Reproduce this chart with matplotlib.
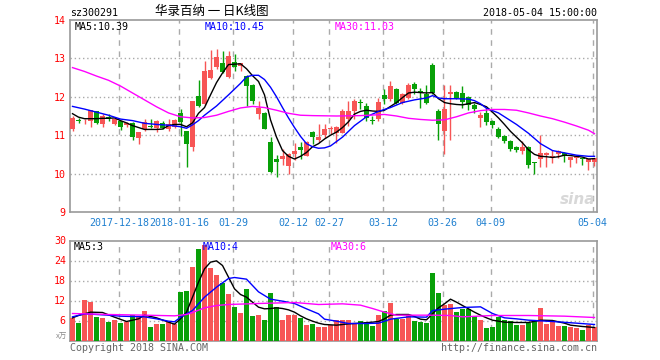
import matplotlib
matplotlib.use("Agg")
import matplotlib.pyplot as plt

# daily candles 2017-12 .. 2018-05-04 (one entry per trading day)
opens = [11.15, 11.39, 11.36, 11.37, 11.62, 11.29, 11.47, 11.30, 11.37, 11.26,
         11.32, 10.94, 11.15, 11.24, 11.18, 11.33, 11.16, 11.21, 11.57, 11.10,
         10.68, 12.02, 11.80, 12.48, 12.77, 12.87, 12.51, 12.91, 12.80, 12.55,
         12.30, 11.54, 11.57, 10.83, 10.38, 10.39, 10.19, 10.52, 10.69, 10.47,
         11.09, 10.88, 11.01, 11.17, 11.06, 11.06, 11.41, 11.63, 11.86, 11.76,
         11.40, 11.41, 12.04, 11.93, 12.21, 11.85, 11.98, 12.33, 12.16, 12.06,
         12.83, 11.64, 11.10, 12.06, 12.13, 12.11, 12.00, 11.79, 11.44, 11.57,
         11.38, 11.15, 10.98, 10.85, 10.70, 10.59, 10.70, 10.30, 10.37, 10.48,
         10.43, 10.51, 10.54, 10.35, 10.40, 10.40, 10.31, 10.31]
highs = [11.49, 11.44, 11.42, 11.66, 11.64, 11.56, 11.54, 11.45, 11.38, 11.34,
         11.34, 11.09, 11.41, 11.43, 11.39, 11.36, 11.42, 11.41, 11.69, 11.12,
         11.89, 12.44, 12.93, 13.22, 13.25, 13.20, 13.20, 13.11, 12.88, 12.57,
         12.33, 11.89, 11.60, 10.95, 10.49, 10.65, 10.53, 10.80, 10.81, 10.84,
         11.10, 11.30, 11.30, 11.25, 11.23, 11.67, 11.89, 11.93, 11.93, 11.85,
         11.50, 11.98, 12.21, 12.41, 12.24, 12.11, 12.37, 12.39, 12.24, 12.30,
         12.88, 11.69, 12.30, 12.30, 12.16, 12.28, 12.02, 11.83, 11.61, 11.70,
         11.40, 11.22, 11.00, 10.88, 10.72, 10.86, 10.71, 10.31, 11.00, 10.57,
         10.62, 10.61, 10.57, 10.43, 10.48, 10.41, 10.39, 10.41]
lows = [11.12, 11.33, 11.30, 11.21, 11.28, 11.21, 11.37, 11.27, 11.14, 11.21,
        10.87, 10.77, 11.11, 11.18, 11.08, 11.15, 11.12, 11.18, 10.99, 10.16,
        10.60, 11.73, 11.78, 12.46, 12.72, 12.62, 12.48, 12.68, 12.68, 11.76,
        11.80, 11.41, 11.15, 10.01, 9.92, 10.23, 9.99, 10.36, 10.38, 10.45,
        10.77, 10.81, 10.93, 11.04, 10.80, 11.05, 11.23, 11.41, 11.67, 11.37,
        11.28, 11.37, 11.80, 11.89, 11.82, 11.80, 11.93, 12.08, 11.71, 11.82,
        12.06, 10.88, 10.52, 10.88, 11.95, 11.70, 11.66, 11.57, 11.22, 11.27,
        11.18, 10.94, 10.79, 10.59, 10.55, 10.51, 10.14, 10.00, 10.16, 10.18,
        10.28, 10.40, 10.29, 10.16, 10.27, 10.22, 10.09, 10.20]
closes = [11.46, 11.37, 11.37, 11.65, 11.31, 11.51, 11.45, 11.41, 11.22, 11.32,
          10.95, 11.08, 11.34, 11.22, 11.38, 11.19, 11.28, 11.39, 11.34, 10.78,
          11.88, 11.76, 12.67, 12.69, 13.03, 12.65, 13.05, 12.78, 12.87, 12.28,
          11.89, 11.70, 11.17, 10.05, 10.29, 10.47, 10.51, 10.58, 10.62, 10.82,
          10.95, 10.95, 11.15, 11.20, 11.22, 11.63, 11.63, 11.89, 11.84, 11.44,
          11.38, 11.86, 11.93, 12.28, 11.83, 12.08, 12.30, 12.21, 12.13, 11.83,
          12.11, 11.30, 11.69, 12.13, 11.98, 11.87, 11.79, 11.67, 11.53, 11.35,
          11.27, 10.96, 10.85, 10.64, 10.61, 10.70, 10.22, 10.28, 10.53, 10.54,
          10.45, 10.59, 10.48, 10.42, 10.46, 10.38, 10.38, 10.40]
volumes = [6.7, 5.3, 12.1, 11.5, 7.0, 6.7, 5.5, 6.1, 5.3, 5.7,
           7.8, 7.3, 8.8, 4.2, 4.9, 4.9, 5.5, 4.9, 14.5, 14.8,
           22.0, 27.4, 28.6, 21.8, 19.6, 17.4, 13.9, 10.1, 8.3, 15.4,
           7.4, 7.8, 6.3, 14.4, 10.1, 6.3, 7.8, 7.8, 6.8, 4.8,
           5.0, 4.1, 4.1, 4.8, 6.1, 6.3, 6.3, 5.1, 5.8, 5.6,
           4.4, 7.8, 8.8, 11.2, 6.4, 6.4, 7.8, 5.8, 5.6, 5.4,
           20.3, 14.3, 10.6, 10.9, 8.6, 9.6, 9.4, 7.4, 6.3, 3.7,
           4.1, 7.1, 6.1, 5.9, 4.7, 4.7, 5.3, 6.1, 9.8, 5.0,
           5.9, 4.4, 4.4, 4.1, 3.9, 3.1, 4.6, 4.0]

# moving averages: (day index, value)
ma5_days = list(range(88))
ma5 = [11.56, 11.47, 11.43, 11.43, 11.43, 11.44, 11.44, 11.45, 11.38, 11.32,
       11.25, 11.20, 11.15, 11.15, 11.15, 11.16, 11.25, 11.28, 11.28, 11.22,
       11.32, 11.57, 11.72, 12.05, 12.37, 12.62, 12.84, 12.85, 12.86, 12.73,
       12.55, 12.40, 12.05, 11.40, 10.95, 10.60, 10.45, 10.38, 10.45, 10.55,
       10.70, 10.78, 10.90, 11.00, 11.08, 11.20, 11.35, 11.55, 11.62, 11.65,
       11.63, 11.62, 11.65, 11.75, 11.85, 11.98, 12.10, 12.12, 12.11, 12.10,
       12.11, 11.95, 11.85, 11.82, 11.80, 11.79, 11.82, 11.85, 11.80, 11.74,
       11.60, 11.45, 11.28, 11.10, 10.95, 10.80, 10.62, 10.50, 10.45, 10.44,
       10.42, 10.44, 10.48, 10.47, 10.45, 10.43, 10.38, 10.39]
ma10_days = [0, 2, 4, 6, 8, 10, 12, 14, 16, 18, 19, 20, 21, 22, 24, 26, 28, 29,
             30, 31, 32, 33, 34, 35, 36, 37, 38, 39, 40, 41, 42, 43, 45, 47, 49,
             51, 53, 55, 57, 59, 60, 61, 62, 64, 66, 67, 68, 69, 71, 72, 74, 76,
             78, 80, 82, 84, 86, 87]
ma10 = [11.75, 11.68, 11.60, 11.52, 11.42, 11.38, 11.31, 11.28, 11.26, 11.22,
        11.18, 11.27, 11.38, 11.52, 11.76, 12.05, 12.35, 12.52, 12.56, 12.56,
        12.45, 12.25, 12.00, 11.72, 11.45, 11.20, 10.97, 10.78, 10.70, 10.66,
        10.67, 10.72, 10.95, 11.25, 11.48, 11.62, 11.72, 11.85, 11.92, 11.97,
        12.03, 11.97, 11.95, 11.95, 11.94, 11.90, 11.82, 11.70, 11.58, 11.48,
        11.28, 11.05, 10.78, 10.60, 10.54, 10.48, 10.45, 10.45]
ma30_days = [0, 2, 4, 6, 8, 10, 12, 14, 16, 18, 20, 22, 24, 26, 28, 30, 32, 34,
             36, 38, 40, 44, 48, 52, 54, 56, 58, 60, 62, 64, 66, 68, 70, 72, 74,
             76, 78, 80, 82, 84, 86, 87]
ma30 = [12.76, 12.66, 12.54, 12.43, 12.28, 12.10, 11.92, 11.74, 11.58, 11.48,
        11.45, 11.46, 11.52, 11.62, 11.71, 11.75, 11.72, 11.65, 11.57, 11.52,
        11.51, 11.50, 11.51, 11.54, 11.50, 11.44, 11.41, 11.39, 11.40, 11.48,
        11.58, 11.64, 11.67, 11.67, 11.65, 11.58, 11.50, 11.43, 11.34, 11.24,
        11.13, 11.04]

vma5_days = [0, 1, 3, 5, 7, 9, 11, 12, 14, 16, 17, 18, 19, 20, 21, 22, 23, 24,
             25, 26, 27, 28, 29, 30, 31, 32, 33, 34, 35, 36, 37, 38, 39, 40, 41,
             42, 44, 46, 48, 50, 51, 52, 53, 54, 56, 57, 58, 59, 60, 61, 62, 63,
             64, 65, 66, 67, 68, 69, 70, 72, 74, 76, 78, 80, 82, 83, 85, 87]
vma5 = [6.8, 7.5, 8.5, 8.4, 7.0, 5.7, 6.5, 7.6, 6.8, 5.5, 4.9, 6.5, 8.5, 13.0,
        17.5, 21.5, 23.5, 23.9, 22.5, 19.0, 15.5, 13.8, 13.0, 11.5, 10.0, 9.5,
        9.6, 9.8, 9.6, 9.2, 8.5, 7.4, 6.5, 5.8, 5.2, 4.8, 4.6, 5.0, 5.2, 5.5,
        5.7, 6.5, 7.6, 7.8, 7.8, 7.2, 6.4, 6.2, 8.0, 9.8, 11.0, 12.4, 11.5,
        10.5, 9.5, 8.5, 7.6, 6.8, 6.1, 5.5, 5.4, 5.4, 6.1, 6.0, 5.2, 4.6, 4.2,
        3.9]
vma10_days = [0, 2, 4, 6, 8, 10, 12, 14, 16, 17, 18, 20, 22, 24, 26, 27, 29, 31,
              33, 35, 37, 39, 41, 42, 44, 46, 49, 51, 53, 56, 59, 60, 62, 65, 68,
              70, 72, 74, 76, 80, 84, 87]
vma10 = [7.1, 8.0, 7.8, 7.6, 7.3, 7.2, 7.1, 6.5, 5.8, 5.6, 7.0, 9.0, 13.0, 16.0,
         18.6, 18.9, 18.4, 14.6, 12.4, 11.8, 11.1, 9.5, 8.0, 6.4, 5.8, 5.1, 5.1,
         5.2, 6.4, 7.1, 7.0, 9.0, 9.4, 9.9, 10.1, 8.1, 6.8, 6.5, 6.1, 5.7, 5.2,
         4.8]
vma30_days = [0, 6, 12, 17, 19, 20, 22, 24, 26, 31, 37, 41, 45, 48, 50, 52, 54,
              60, 63, 65, 70, 76, 82, 87]
vma30 = [8.1, 7.8, 7.6, 7.4, 7.8, 8.4, 9.8, 10.5, 10.8, 11.1, 11.4, 10.8, 11.0,
         10.6, 9.6, 8.5, 7.6, 7.6, 7.5, 7.1, 7.5, 7.5, 7.3, 6.9]

date_days = [8, 18, 27, 37, 43, 52, 62, 70, 87]
date_labels = ["2017-12-18", "2018-01-16", "01-29", "02-12", "02-27",
               "03-12", "03-26", "04-09", "05-04"]

RED = "#f75555"
GREEN = "#08a008"
MONO = "DejaVu Sans Mono"
W, H = 660, 360

fig = plt.figure(figsize=(6.6, 3.6), dpi=100)
fig.patch.set_facecolor("white")

def px(x, y):
    return x / W, 1 - y / H

ax = fig.add_axes([70 / W, 1 - 212 / H, 527 / W, 192 / H])
axv = fig.add_axes([70 / W, 1 - 340.5 / H, 527 / W, 100 / H])

days = list(range(len(closes)))
colors = [RED if c >= o else GREEN for o, c in zip(opens, closes)]
bottoms = [min(o, c) for o, c in zip(opens, closes)]
heights = [max(abs(c - o), 0.012) for o, c in zip(opens, closes)]

ax.vlines(days, lows, highs, colors=colors, linewidth=1, zorder=3)
ax.bar(days, heights, bottom=bottoms, width=0.8, color=colors, linewidth=0, zorder=4)
ax.plot(ma5_days, ma5, color="black", lw=1, zorder=5)
ax.plot(ma10_days, ma10, color="#0000ff", lw=1, zorder=5)
ax.plot(ma30_days, ma30, color="#ff00ff", lw=1, zorder=5)

axv.bar(days, volumes, width=0.82, color=colors, linewidth=0, zorder=3)
axv.plot(vma5_days, vma5, color="black", lw=1, zorder=4)
axv.plot(vma10_days, vma10, color="#0000ff", lw=1, zorder=4)
axv.plot(vma30_days, vma30, color="#ff00ff", lw=1, zorder=4)

grid_x = [d - 0.27 for d in date_days]
for a in (ax, axv):
    a.set_xlim(-0.42, 87.42)
    for s in a.spines.values():
        s.set_color("#9a9a9a")
        s.set_linewidth(1.2)
    for gx in grid_x:
        a.axvline(gx, color="#aaaaaa", lw=1, linestyle=(0, (4, 4)), zorder=1)
    a.tick_params(length=0, labelcolor="red", labelsize=7.2, pad=3)

ax.set_ylim(9, 14)
ax.set_yticks([9, 10, 11, 12, 13, 14])
for yv in [10, 11, 12, 13]:
    ax.axhline(yv, color="#aaaaaa", lw=1, linestyle=(0, (1, 2)), zorder=1)
ax.set_xticks(grid_x)
ax.set_xticklabels(date_labels)
ax.tick_params(axis="x", labelcolor="#2080d0", pad=4)

axv.set_ylim(0, 30)
axv.set_yticks([6, 12, 18, 24, 30])
for yv in [6, 12, 18, 24]:
    axv.axhline(yv, color="#aaaaaa", lw=1, linestyle=(0, (1, 2)), zorder=1)
axv.set_xticks([])

for lab in ax.get_xticklabels() + ax.get_yticklabels() + axv.get_yticklabels():
    lab.set_family(MONO)

# header
fig.text(*px(70, 13), "sz300291", family=MONO, fontsize=7.2, va="center", ha="left")
fig.text(*px(212, 12), "华录百纳 一 日K线图", family=["Noto Sans CJK SC", "DejaVu Sans"],
         fontsize=9, va="center", ha="center")
fig.text(*px(597, 13), "2018-05-04 15:00:00", family=MONO, fontsize=7.2,
         va="center", ha="right")

fig.text(*px(75, 27), "MA5:10.39", family=MONO, fontsize=7.2, va="center", color="black")
fig.text(*px(205, 27), "MA10:10.45", family=MONO, fontsize=7.2, va="center", color="#0000ff")
fig.text(*px(335, 27), "MA30:11.03", family=MONO, fontsize=7.2, va="center", color="#ff00ff")

fig.text(*px(74, 247), "MA5:3", family=MONO, fontsize=7.2, va="center", color="black")
fig.text(*px(203, 247), "MA10:4", family=MONO, fontsize=7.2, va="center", color="#0000ff")
fig.text(*px(331, 247), "MA30:6", family=MONO, fontsize=7.2, va="center", color="#ff00ff")

fig.text(*px(67, 337), "x万", family=["Noto Sans CJK SC", "DejaVu Sans"], fontsize=5.5,
         va="center", ha="right", color="#888888")
fig.text(*px(70, 348), "Copyright 2018 SINA.COM", family=MONO, fontsize=7.2,
         va="center", ha="left", color="#666666")
fig.text(*px(597, 348), "http://finance.sina.com.cn", family=MONO, fontsize=7.2,
         va="center", ha="right", color="#666666")

# faint sina watermark
fig.text(*px(578, 200), "sina", fontsize=11, fontweight="bold", style="italic",
         color="#d8d8d8", ha="center", va="center")

fig.savefig("out.png", dpi=100)
